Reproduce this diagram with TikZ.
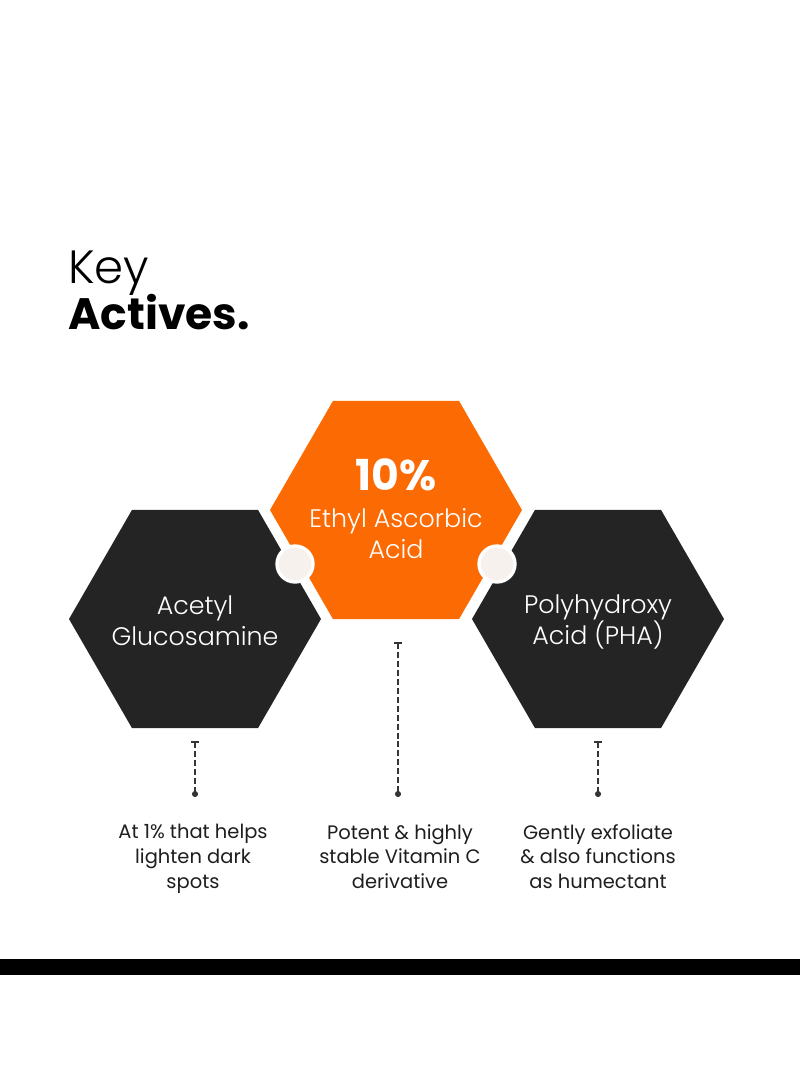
\documentclass[tikz,border=0pt]{standalone}
\usepackage{fontspec}
\setmainfont{Poppins}
\newfontfamily\lightfont{Poppins Light}
\usetikzlibrary{shapes.geometric,arrows.meta}
\definecolor{actorange}{HTML}{FC6A03}
\definecolor{hexdark}{HTML}{242424}
\definecolor{knobfill}{HTML}{F6F1ED}
\definecolor{captext}{HTML}{1E1E1E}
\begin{document}
\begin{tikzpicture}[x=0.75pt, y=-0.75pt,
  hexbase/.style={regular polygon, regular polygon sides=6, minimum size=189pt, inner sep=0pt, outer sep=0pt},
  hexdark/.style={hexbase, fill=hexdark},
  hexorange/.style={hexbase, fill=actorange},
  hexlabel/.style={align=center, text=white, inner sep=0pt, font=\fontsize{19}{23.2}\selectfont\lightfont},
  pct/.style={text=white, inner sep=0pt, font=\fontsize{32}{36}\selectfont\bfseries},
  knob/.style={circle, fill=knobfill, draw=white, line width=2.5pt, minimum size=27pt, inner sep=0pt},
  caption/.style={align=center, text=captext, inner sep=0pt, anchor=north, font=\fontsize{14.6}{18.6}\selectfont},
  lead/.style={draw=captext!90, line width=1.2pt, dash pattern=on 4.5pt off 2.2pt, {Bar[width=6pt]}-{Circle[length=4.5pt]}}]
\useasboundingbox (0,0) rectangle (800,1091);

% title
\node[anchor=base west, inner sep=0pt, font=\fontsize{35}{40}\selectfont\lightfont] (kwKey) at (68,283) {Key};
\node[anchor=base west, inner sep=0pt, font=\fontsize{33}{40}\selectfont\bfseries] (kwAct) at (68,329) {Actives.};

% hexagons
\node[hexdark] (hexL) at (195,619) {};
\node[hexdark] (hexR) at (598,619) {};
\node[hexorange] (hexC) at (396,510) {};

\node[hexlabel] (nameL) at (195,621) {Acetyl\\Glucosamine};
\node[hexlabel] (nameR) at (598,622) {Polyhydroxy\\Acid (PHA)};
\node[pct] (pctC) at (396,475) {10\%};
\node[hexlabel] (nameC) at (396,534) {Ethyl Ascorbic\\Acid};

% joints between the cells
\node[knob] (knobL) at (295,564) {};
\node[knob] (knobR) at (497,564) {};

% leaders
\coordinate (topL) at (195,741);
\coordinate (botL) at (195,797);
\coordinate (topC) at (398,642);
\coordinate (botC) at (398,797);
\coordinate (topR) at (598,741);
\coordinate (botR) at (598,797);
\draw[lead] (topL) -- (botL);
\draw[lead] (topC) -- (botC);
\draw[lead] (topR) -- (botR);

% captions
\node[caption] (capL) at (193,824) {At 1\% that helps\\lighten dark\\spots};
\node[caption] (capC) at (400,824) {Potent \& highly\\stable Vitamin C\\derivative};
\node[caption] (capR) at (598,824) {Gently exfoliate\\\& also functions\\as humectant};

% footer bar
\fill[black] (0,959) rectangle (800,975);
\end{tikzpicture}
\end{document}
